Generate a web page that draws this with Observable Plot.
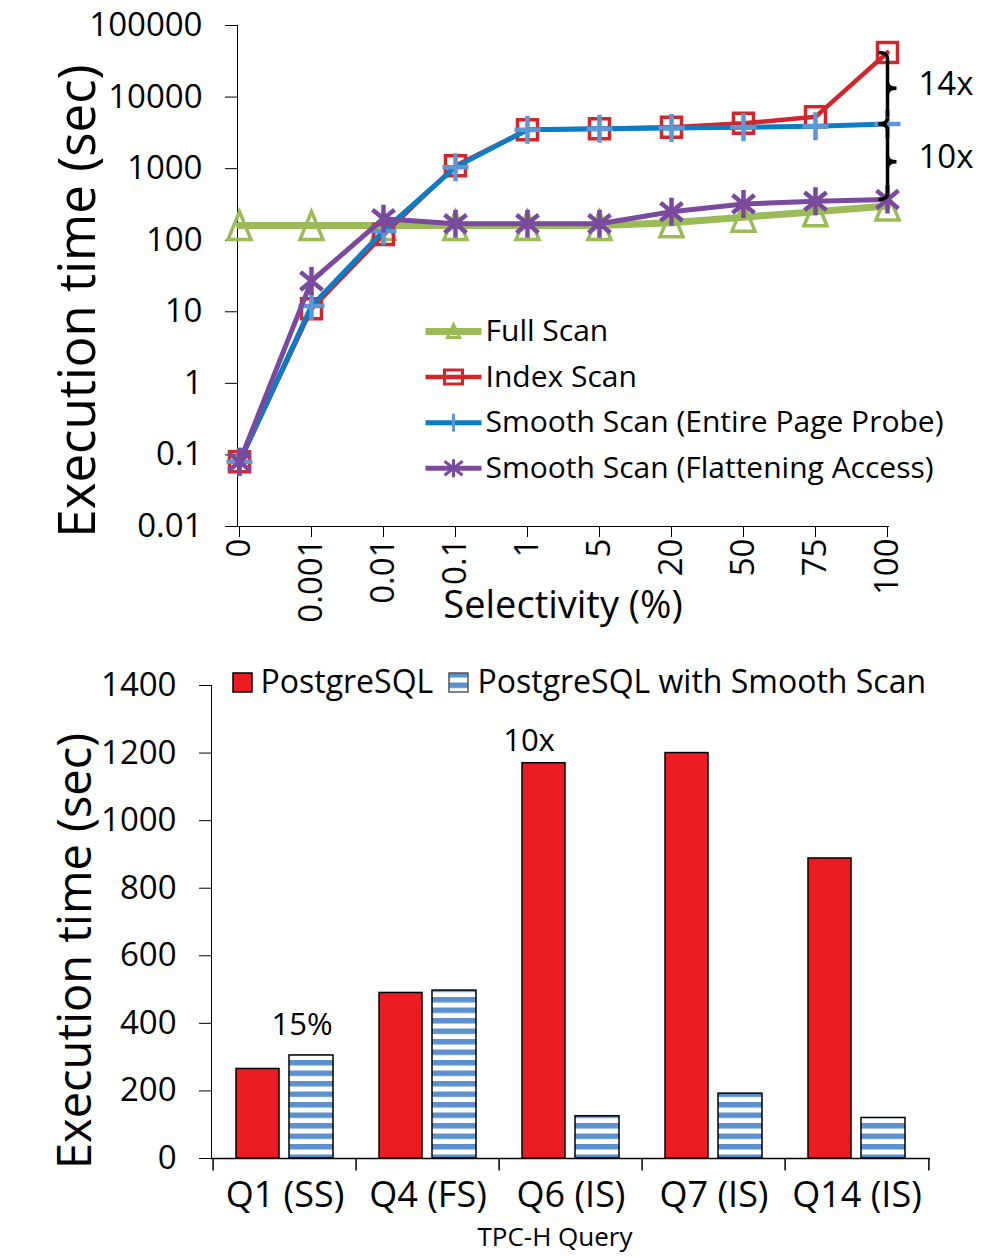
<!DOCTYPE html>
<html><head><meta charset="utf-8">
<script src="https://cdn.jsdelivr.net/npm/d3@7"></script>
<script src="https://cdn.jsdelivr.net/npm/@observablehq/plot@0.6"></script>
<style>
body{margin:0;background:#fff;}
svg{display:block;}
</style>
</head><body><div id="top"></div><div id="bottom"></div>
<script>
// ---------- data: top chart ----------
const selectivity = ["0","0.001","0.01","0.1","1","5","20","50","75","100"];
const fullScan = [160,160,160,160,160,160,175,210,250,300];
const indexScan = [0.08,11,120,1100,3500,3600,3800,4300,5300,42000];
const smoothEntirePage = [0.08,12,135,1050,3500,3600,3700,3800,3900,4200];
const smoothFlattening = [0.08,27,200,170,170,170,250,320,350,370];
const seriesNames = ["Full Scan","Index Scan","Smooth Scan (Entire Page Probe)","Smooth Scan (Flattening Access)"];
const logTicks = [0.01,0.1,1,10,100,1000,10000,100000];
const gapLabels = ["14x","10x"];

// ---------- data: bottom chart ----------
const queries = ["Q1 (SS)","Q4 (FS)","Q6 (IS)","Q7 (IS)","Q14 (IS)"];
const postgres = [265,490,1170,1200,888];
const postgresSmooth = [305,497,125,192,120];
const barSeries = ["PostgreSQL","PostgreSQL with Smooth Scan"];
const barTicks = [0,200,400,600,800,1000,1200,1400];
const barNotes = ["15%","10x"];

// ---------- styles ----------
const FONT = "Open Sans";
const sym = (f) => ({draw(ctx){ f(ctx); }});
const triangleSym = sym(c => { c.moveTo(0,-14); c.lineTo(11.5,14); c.lineTo(-11.5,14); c.closePath(); });
const squareSym = sym(c => { c.rect(-10,-10,20,20); });
const plusSym = sym(c => { c.moveTo(-13,0); c.lineTo(13,0); c.moveTo(0,-14); c.lineTo(0,14); });
const asteriskSym = sym(c => { c.moveTo(0,-14); c.lineTo(0,14); c.moveTo(-11,-9); c.lineTo(11,9); c.moveTo(-11,9); c.lineTo(11,-9); });
const lineSwatch = sym(c => { c.moveTo(-28,0); c.lineTo(28,0); });
const legTriangle = sym(c => { c.moveTo(0,-7); c.lineTo(6,6); c.lineTo(-6,6); c.closePath(); });
const legSquare = sym(c => { c.rect(-9,-7,18,14); });
const legPlus = sym(c => { c.moveTo(0,-9); c.lineTo(0,9); });
const legAsterisk = sym(c => { c.moveTo(0,-9); c.lineTo(0,9); c.moveTo(-9,-7); c.lineTo(9,7); c.moveTo(-9,7); c.lineTo(9,-7); });

const styles = [
  {line:"#9BBB59", lw:7, mark:"#9BBB59", mw:3.5, symbol:triangleSym, leg:legTriangle},
  {line:"#D0262C", lw:4.5, mark:"#D0262C", mw:3.5, symbol:squareSym, leg:legSquare},
  {line:"#0A7DC6", lw:5, mark:"#5E97D2", mw:4.5, symbol:plusSym, leg:legPlus},
  {line:"#7A4A9E", lw:5, mark:"#7A4A9E", mw:4.5, symbol:asteriskSym, leg:legAsterisk}
];
const seriesValues = [fullScan, indexScan, smoothEntirePage, smoothFlattening];

const lastSel = selectivity[selectivity.length - 1];
const braces = [
  {from: indexScan[9], to: smoothEntirePage[9], label: gapLabels[0]},
  {from: smoothEntirePage[9], to: smoothFlattening[9], label: gapLabels[1]}
];
const hookTop = sym(c => { c.moveTo(-9,0); c.quadraticCurveTo(0,0,0,6); });
const hookBottom = sym(c => { c.moveTo(-9,0); c.quadraticCurveTo(0,0,0,-6); });
const hookMid = sym(c => { c.moveTo(0,-6); c.quadraticCurveTo(0,0,9,0); c.quadraticCurveTo(0,0,0,6); });

const topMarks = [];
seriesNames.forEach((name, k) => {
  const rows = selectivity.map((s, i) => ({sel: s, v: seriesValues[k][i], series: name}));
  const st = styles[k];
  topMarks.push(Plot.line(rows, {x:"sel", y:"v", stroke: st.line, strokeWidth: st.lw}));
  topMarks.push(Plot.dot(rows, {x:"sel", y:"v", symbol: st.symbol, r: 5, fill:"none", stroke: st.mark, strokeWidth: st.mw}));
});
// braces
topMarks.push(Plot.ruleX(braces, {x: () => lastSel, y1: "from", y2: "to", stroke: "black", strokeWidth: 3.5, insetTop: 6, insetBottom: 6}));
topMarks.push(Plot.dot(braces, {x: () => lastSel, y: "from", symbol: hookTop, r: 5, fill: "none", stroke: "black", strokeWidth: 3.5}));
topMarks.push(Plot.dot(braces, {x: () => lastSel, y: "to", symbol: hookBottom, r: 5, fill: "none", stroke: "black", strokeWidth: 3.5}));
topMarks.push(Plot.dot(braces, {x: () => lastSel, y: d => Math.sqrt(d.from * d.to), symbol: hookMid, r: 5, fill: "none", stroke: "black", strokeWidth: 3.5}));
topMarks.push(Plot.text(braces, {x: () => lastSel, y: d => Math.sqrt(d.from * d.to), text: "label", dx: 31, dy: -4, textAnchor: "start", lineAnchor: "middle", fontSize: 33, fill: "black"}));
// legend
seriesNames.forEach((name, k) => {
  const st = styles[k];
  const dy = 306 + 45.6 * k;
  topMarks.push(Plot.dot([name], {frameAnchor:"top-left", dx:216, dy, symbol: lineSwatch, r:5, fill:"none", stroke: st.line, strokeWidth: st.lw}));
  topMarks.push(Plot.dot([name], {frameAnchor:"top-left", dx:216, dy, symbol: st.leg, r:5, fill:"none", stroke: st.mark, strokeWidth: 3}));
  topMarks.push(Plot.text([name], {frameAnchor:"top-left", dx:248, dy, text: d => d, textAnchor:"start", lineAnchor:"middle", fontSize: 30, fill:"black"}));
});
// axis titles
topMarks.push(Plot.text(["Execution time (sec)"], {frameAnchor:"left", rotate:-90, dx:-159, dy:25, text: d => d, textAnchor:"middle", lineAnchor:"middle", fontSize:51, fill:"black"}));
topMarks.push(Plot.text(["Selectivity (%)"], {frameAnchor:"bottom", dy:79, text: d => d, textAnchor:"middle", lineAnchor:"middle", fontSize:38, fill:"black"}));

const topPlot = Plot.plot({
  width: 1000, height: 640,
  marginLeft: 237, marginRight: 112, marginTop: 25, marginBottom: 114,
  style: {fontFamily: FONT, fontSize: "33px", color: "black", background: "white"},
  x: {type: "point", domain: selectivity, padding: 0, tickRotate: -90, tickSize: 11, tickPadding: 1, line: true, label: null},
  y: {type: "log", domain: [0.01, 100000], ticks: logTicks, tickFormat: d => String(d), tickSize: 12, tickPadding: 23, line: true, label: null},
  marks: topMarks
});
document.getElementById("top").appendChild(topPlot);

// ---------- bottom chart ----------
const bars = queries.map((q, i) => ({q, a: postgres[i], b: postgresSmooth[i]}));
const tickDown = sym(c => { c.moveTo(0,0); c.lineTo(0,12); });
const legRed = sym(c => { c.rect(-9.5,-9.5,19,19); });

const bottomPlot = Plot.plot({
  width: 1000, height: 617,
  marginLeft: 211, marginRight: 70, marginTop: 45, marginBottom: 99,
  style: {fontFamily: FONT, fontSize: "33px", color: "black", background: "white"},
  x: {type: "band", domain: queries, padding: 0, axis: null},
  y: {domain: [0, 1400], ticks: barTicks, tickFormat: d => String(d), tickSize: 12, tickPadding: 23, line: true, label: null},
  marks: [
    Plot.barY(bars, {x: "q", y: "a", fill: "#ED1C24", stroke: "black", strokeWidth: 1.5, insetLeft: 23, insetRight: 77}),
    Plot.barY(bars, {x: "q", y: "b", fill: "url(#stripes)", stroke: "black", strokeWidth: 1.5, insetLeft: 76, insetRight: 23}),
    Plot.ruleY([0], {stroke: "black", strokeWidth: 1.5}),
    Plot.dot(queries, {x: d => d, y: () => 0, dx: -71.9, symbol: tickDown, r: 5, stroke: "black", strokeWidth: 1.5}),
    Plot.dot([queries[queries.length - 1]], {x: d => d, y: () => 0, dx: 71.9, symbol: tickDown, r: 5, stroke: "black", strokeWidth: 1.5}),
    Plot.text(queries, {x: d => d, frameAnchor: "bottom", dy: 37, text: d => d, textAnchor: "middle", lineAnchor: "middle", fontSize: 36, fill: "black"}),
    Plot.text([bars[0]], {x: "q", y: "b", text: () => barNotes[0], dx: 17, dy: -30, lineAnchor: "middle", fontSize: 31, fill: "black"}),
    Plot.text([bars[2]], {x: "q", y: "a", text: () => barNotes[1], dx: -42, dy: -22, lineAnchor: "middle", fontSize: 31, fill: "black"}),
    // legend
    Plot.dot([barSeries[0]], {frameAnchor: "top-left", dx: 31, dy: -3, symbol: legRed, r: 5, fill: "#ED1C24", stroke: "black", strokeWidth: 1.5}),
    Plot.text([barSeries[0]], {frameAnchor: "top-left", dx: 49, dy: -3, text: d => d, textAnchor: "start", lineAnchor: "middle", fontSize: 32, fill: "black"}),
    Plot.dot([barSeries[1]], {frameAnchor: "top-left", dx: 247, dy: -3, symbol: legRed, r: 5, fill: "url(#stripes)", stroke: "#555", strokeWidth: 1.5}),
    Plot.text([barSeries[1]], {frameAnchor: "top-left", dx: 266, dy: -3, text: d => d, textAnchor: "start", lineAnchor: "middle", fontSize: 32, fill: "black"}),
    // axis titles
    Plot.text(["Execution time (sec)"], {frameAnchor: "left", rotate: -90, dx: -136, dy: 29, text: d => d, textAnchor: "middle", lineAnchor: "middle", fontSize: 47, fill: "black"}),
    Plot.text(["TPC-H Query"], {frameAnchor: "bottom", dx: -16, dy: 79, text: d => d, textAnchor: "middle", lineAnchor: "middle", fontSize: 26, fill: "black"})
  ]
});
const ns = "http://www.w3.org/2000/svg";
const defs = document.createElementNS(ns, "defs");
defs.innerHTML = '<pattern id="stripes" patternUnits="userSpaceOnUse" width="10" height="10.5"><rect width="10" height="10.5" fill="white"/><rect y="0" width="10" height="5.5" fill="#5A91CE"/></pattern>';
bottomPlot.insertBefore(defs, bottomPlot.firstChild);
document.getElementById("bottom").appendChild(bottomPlot);
</script>
</body></html>
